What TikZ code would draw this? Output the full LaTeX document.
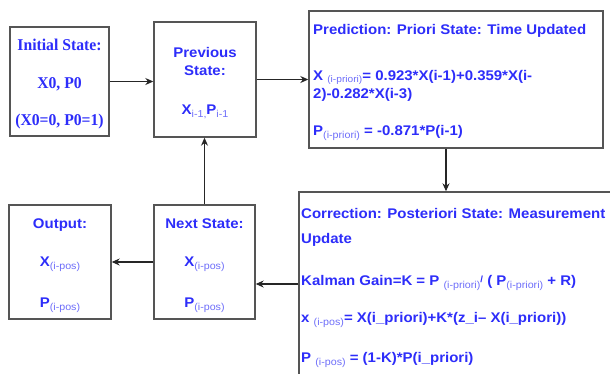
\documentclass[tikz,border=0pt]{standalone}
\usepackage{fontspec}
\setmainfont{Liberation Sans}
\newfontfamily\boxsans[FakeStretch=1.07]{Liberation Sans}
\newfontfamily\boxserif[FakeStretch=0.95]{Liberation Serif}
\usetikzlibrary{arrows.meta}
\definecolor{txtblue}{RGB}{45,45,250}
\definecolor{subblue}{RGB}{110,110,250}
\definecolor{edgegray}{RGB}{85,85,85}
\newcommand{\lowsub}[1]{\raisebox{-0.5ex}{\fontsize{10}{10}\selectfont\mdseries\color{subblue}#1}}
\newcommand{\tightsub}[1]{\raisebox{-0.35ex}{\fontsize{9.5}{9.5}\selectfont\mdseries\color{subblue}#1}}
\tikzset{
  blockbox/.style={draw=edgegray, line width=1.4pt, fill=white, inner sep=0pt},
  sanstxt/.style={text=txtblue, inner sep=0pt, font=\boxsans\bfseries\fontsize{14}{16}\selectfont},
  seriftxt/.style={text=txtblue, inner sep=0pt, font=\boxserif\bfseries\fontsize{16.5}{18}\selectfont},
  flow/.style={draw=black!85, line width=1.1pt, -{Stealth[length=8pt,width=7pt]}},
}
\begin{document}
\begin{tikzpicture}[x=1pt,y=-1pt]
\useasboundingbox (0,0) rectangle (610,373);
\clip (0,0) rectangle (610,373);
% boxes
\node[blockbox, minimum width=99pt, minimum height=109pt] (init) at (59.5,81.5) {};
\node[blockbox, minimum width=102pt, minimum height=115pt] (prev) at (205,79.5) {};
\node[blockbox, minimum width=294pt, minimum height=137pt] (pred) at (456,79.5) {};
\node[blockbox, minimum width=341pt, minimum height=208pt] (corr) at (469.5,296) {};
\node[blockbox, minimum width=101pt, minimum height=114pt] (next) at (204.5,262) {};
\node[blockbox, minimum width=102pt, minimum height=114pt] (out) at (60,262) {};
% initial state text
\node[seriftxt, anchor=base] (i1) at (59.5,50) {Initial State:};
\node[seriftxt, anchor=base] (i2) at (59.5,88) {X0, P0};
\node[seriftxt, anchor=base] (i3) at (59.5,125) {(X0=0, P0=1)};
% previous state text
\node[sanstxt, anchor=base] (p1) at (205,57) {Previous};
\node[sanstxt, anchor=base] (p2) at (205,75) {State:};
\node[sanstxt, anchor=base] (p3) at (205,114) {X\lowsub{i-1,}P\lowsub{i-1}};
% prediction text
\node[sanstxt, anchor=base west] (r1) at (313,34) {Prediction: Priori State: Time Updated};
\node[sanstxt, anchor=base west] (r2) at (313,80) {X \tightsub{(i-priori)}= 0.923*X(i-1)+0.359*X(i-};
\node[sanstxt, anchor=base west] (r3) at (313,98) {2)-0.282*X(i-3)};
\node[sanstxt, anchor=base west] (r4) at (313,135) {P\lowsub{(i-priori)} = -0.871*P(i-1)};
% correction text
\node[sanstxt, anchor=base west] (c1) at (301,218) {Correction: Posteriori State: Measurement};
\node[sanstxt, anchor=base west] (c2) at (301,243) {Update};
\node[sanstxt, anchor=base west] (c3) at (301,285) {Kalman Gain=K = P \lowsub{(i-priori)}\raisebox{0.4ex}{\fontsize{9}{9}\selectfont /} ( P\lowsub{(i-priori)} + R)};
\node[sanstxt, anchor=base west] (c4) at (301,322) {x \lowsub{(i-pos)}= X(i\_priori)+K*(z\_i– X(i\_priori))};
\node[sanstxt, anchor=base west] (c5) at (301,362) {P \lowsub{(i-pos)} = (1-K)*P(i\_priori)};
% next state text
\node[sanstxt, anchor=base] (n1) at (204.5,228) {Next State:};
\node[sanstxt, anchor=base] (n2) at (204.5,266) {X\lowsub{(i-pos)}};
\node[sanstxt, anchor=base] (n3) at (204.5,307) {P\lowsub{(i-pos)}};
% output text
\node[sanstxt, anchor=base] (o1) at (60,228) {Output:};
\node[sanstxt, anchor=base] (o2) at (60,266) {X\lowsub{(i-pos)}};
\node[sanstxt, anchor=base] (o3) at (60,307) {P\lowsub{(i-pos)}};
% connectors
\draw[flow] (init.east) -- (init.east -| prev.west);
\draw[flow] (prev.east) -- (prev.east -| pred.west);
\draw[flow] ([xshift=-10pt]pred.south) -- ([xshift=-10pt]pred.south |- corr.north);
\draw[flow] ([yshift=12pt]corr.west) -- ([yshift=12pt]corr.west -| next.east);
\draw[flow] (next.west) -- (next.west -| out.east);
\draw[flow] (next.north) -- (next.north |- prev.south);
\end{tikzpicture}
\end{document}
